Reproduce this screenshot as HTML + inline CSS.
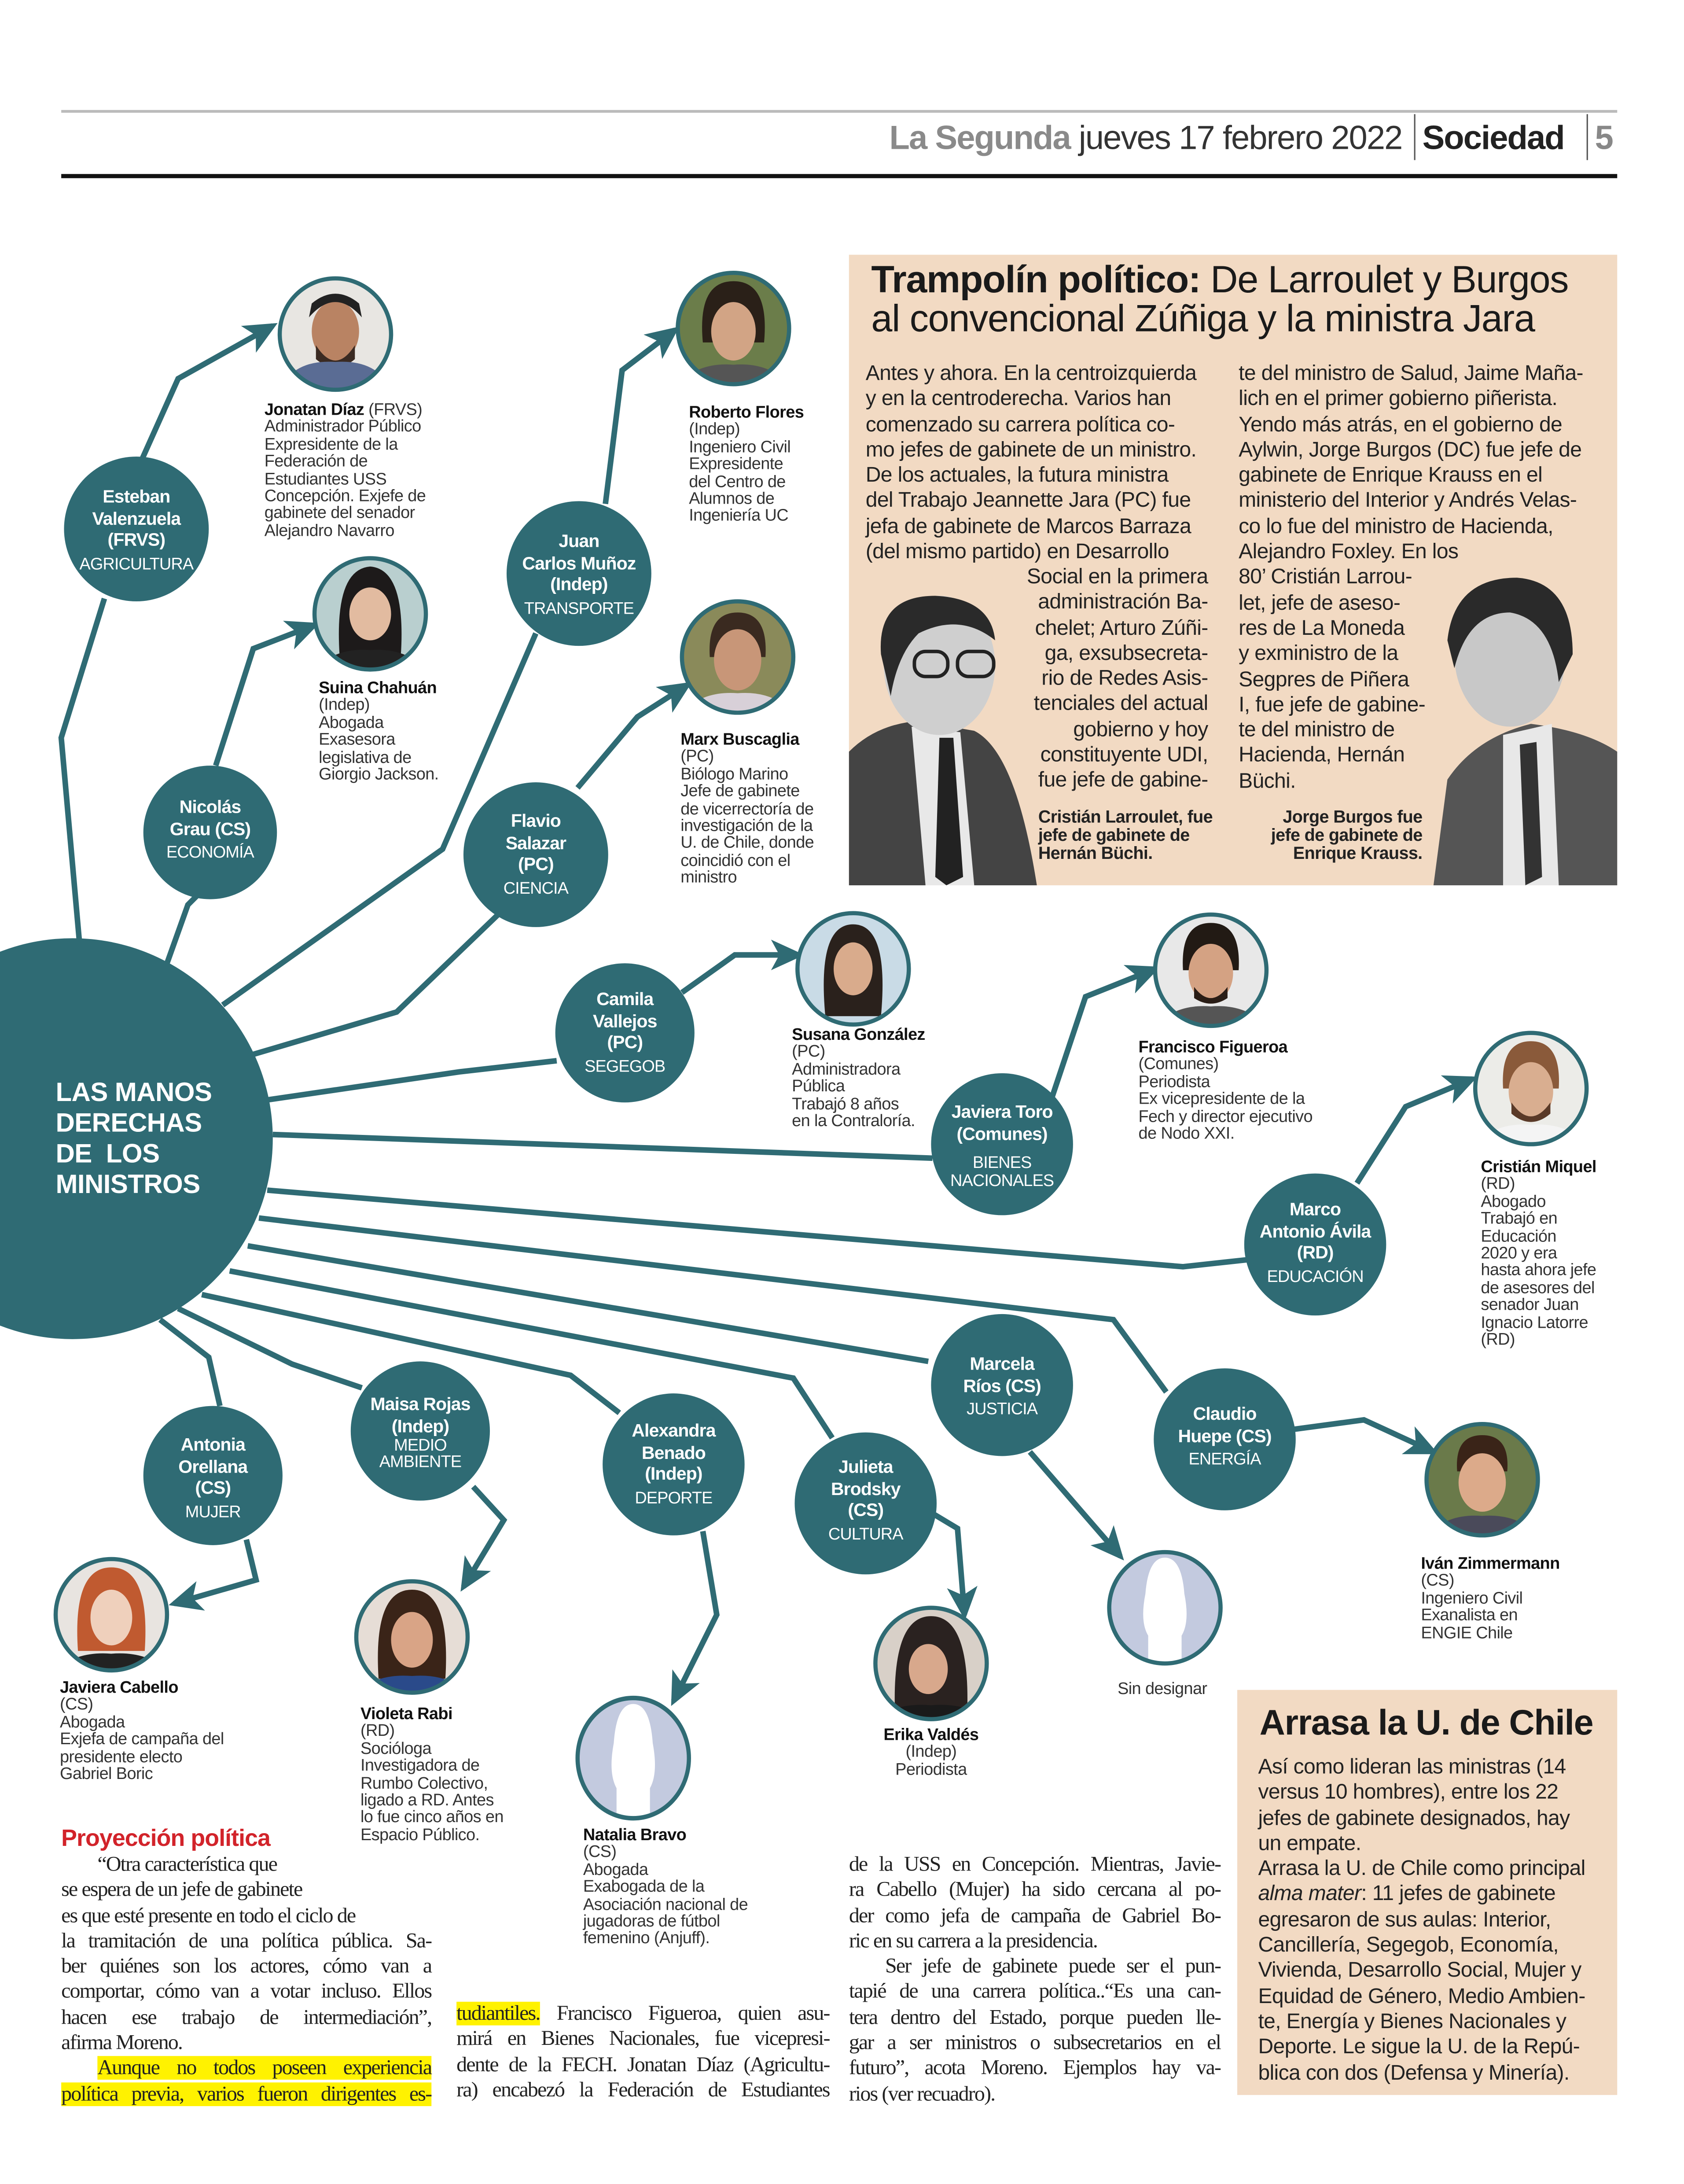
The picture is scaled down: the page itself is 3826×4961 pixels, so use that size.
<!DOCTYPE html>
<html><head><meta charset="utf-8">
<style>
html,body{margin:0;padding:0;background:#fff;}
body{width:3826px;height:4961px;overflow:hidden;position:relative;}
#w{position:absolute;left:0;top:0;width:1210px;height:1569px;transform:scale(3.162);transform-origin:0 0;font-family:"Liberation Sans",sans-serif;color:#222;}
.a{position:absolute;}
.p{position:absolute;font-size:12px;line-height:12.4px;color:#333;letter-spacing:-0.2px;white-space:nowrap;}
.p b{color:#111;}
.m{position:absolute;color:#fff;text-align:center;font-weight:bold;font-size:13px;line-height:15.5px;letter-spacing:-0.3px;}
.m i{font-style:normal;font-weight:normal;font-size:12px;display:block;line-height:13px;margin-top:3px;}
.s{position:absolute;font-family:"Liberation Serif",serif;font-size:15.2px;line-height:18.3px;letter-spacing:-0.6px;color:#222;}
.s div{white-space:nowrap;height:18.3px;overflow:visible;}
.s .j{text-align:justify;text-align-last:justify;white-space:normal;}
.in{padding-left:26px;}
.hl{background:#fff200;}
.bx{font-size:15.2px;line-height:18.3px;color:#222;letter-spacing:-0.2px;white-space:nowrap;}
</style></head><body><div id="w">
<div class="a" style="left:44px;top:79px;width:1118px;height:2px;background:#bbb"></div>
<div class="a" style="left:44px;top:125px;width:1118px;height:3px;background:#111"></div>
<div class="a" style="left:639px;top:85px;font-size:24px;line-height:30px;white-space:nowrap;letter-spacing:-0.6px"><b style="color:#8a8a8a">La Segunda</b> <span style="color:#333">jueves 17 febrero 2022</span></div>
<div class="a" style="left:1016px;top:82px;width:1px;height:33px;background:#555"></div>
<div class="a" style="left:1022px;top:85px;font-size:24px;line-height:30px;font-weight:bold;letter-spacing:-0.6px">Sociedad</div>
<div class="a" style="left:1140px;top:82px;width:1px;height:33px;background:#555"></div>
<div class="a" style="left:1146px;top:85px;font-size:24px;line-height:30px;color:#888;font-weight:bold">5</div>

<svg class="a" style="left:0;top:0" width="1210" height="1569" viewBox="0 0 1210 1569">
<defs>
<marker id="ar" markerUnits="userSpaceOnUse" markerWidth="26" markerHeight="26" refX="20" refY="11" orient="auto" viewBox="0 0 26 22">
<path d="M0,0 L24,11 L0,22 L6,11 Z" fill="#2f6b74"/></marker>
<clipPath id="c1"><circle cx="0" cy="0" r="39"/></clipPath>
</defs>
<g fill="none" stroke="#2f6b74" stroke-width="4" stroke-linejoin="miter">
<polyline points="57,676 44,530 75,430"/>
<polyline points="120,692 135,650 145,640"/>
<polyline points="160,722 318,610 385,455"/>
<polyline points="180,758 285,727 360,655"/>
<polyline points="193,790 330,770 400,762"/>
<polyline points="196,815 670,832"/>
<polyline points="192,855 850,910 896,905"/>
<polyline points="186,875 800,948 838,1000"/>
<polyline points="178,895 667,978"/>
<polyline points="165,913 570,990 598,1033"/>
<polyline points="145,930 410,988 445,1015"/>
<polyline points="128,940 210,980 260,997"/>
<polyline points="115,948 150,975 158,1010"/>
<polyline points="102,330 128,272 196,234" marker-end="url(#ar)"/>
<polyline points="155,550 182,466 226,449" marker-end="url(#ar)"/>
<polyline points="435,362 447,266 485,237" marker-end="url(#ar)"/>
<polyline points="415,566 458,515 494,492" marker-end="url(#ar)"/>
<polyline points="490,713 528,686 574,686" marker-end="url(#ar)"/>
<polyline points="756,788 780,716 830,696" marker-end="url(#ar)"/>
<polyline points="975,850 1010,795 1058,775" marker-end="url(#ar)"/>
<polyline points="928,1027 980,1020 1030,1043" marker-end="url(#ar)"/>
<polyline points="740,1043 805,1118" marker-end="url(#ar)"/>
<polyline points="668,1086 688,1098 693,1160" marker-end="url(#ar)"/>
<polyline points="505,1100 515,1160 484,1222" marker-end="url(#ar)"/>
<polyline points="340,1068 362,1092 333,1140" marker-end="url(#ar)"/>
<polyline points="177,1106 184,1135 125,1152" marker-end="url(#ar)"/>
</g>
<g fill="#2f6b74">
<circle cx="52" cy="818" r="144"/>
<circle cx="98" cy="380" r="52"/>
<circle cx="151" cy="598" r="48"/>
<circle cx="416" cy="412" r="52"/>
<circle cx="385" cy="614" r="52"/>
<circle cx="449" cy="742" r="50"/>
<circle cx="720" cy="822" r="51"/>
<circle cx="945" cy="894" r="51"/>
<circle cx="720" cy="995" r="51"/>
<circle cx="880" cy="1034" r="51"/>
<circle cx="153" cy="1060" r="50"/>
<circle cx="302" cy="1028" r="50"/>
<circle cx="484" cy="1052" r="51"/>
<circle cx="622" cy="1080" r="51"/>
</g>
<g id="photos">
<g transform="translate(241,240)"><g clip-path="url(#c1)"><rect x="-40" y="-40" width="80" height="80" fill="#e8e6e2"/><ellipse cx="0" cy="-2" rx="17" ry="22" fill="#b98363"/><path d="M-19,-12 Q0,-34 19,-12 L17,-22 Q0,-36 -17,-22Z" fill="#222"/><path d="M-14,8 Q0,30 14,8 L14,18 Q0,30 -14,18Z" fill="#3a2a22"/><path d="M-40,40 Q-30,18 0,20 Q30,18 40,40Z" fill="#5a6c94"/></g><circle r="40" fill="none" stroke="#2f6b74" stroke-width="3"/></g>
<g transform="translate(266,441)"><g clip-path="url(#c1)"><rect x="-40" y="-40" width="80" height="80" fill="#b9cfcf"/><path d="M-22,30 Q-26,-32 0,-34 Q26,-32 22,30Z" fill="#1d1a1a"/><ellipse cx="0" cy="0" rx="15" ry="19" fill="#e2bba0"/><path d="M-40,40 Q-25,24 0,26 Q25,24 40,40Z" fill="#222"/></g><circle r="40" fill="none" stroke="#2f6b74" stroke-width="3"/></g>
<g transform="translate(527,236)"><g clip-path="url(#c1)"><rect x="-40" y="-40" width="80" height="80" fill="#6b7d4a"/><path d="M-22,10 Q-26,-34 0,-34 Q26,-34 22,10Z" fill="#2a2018"/><ellipse cx="0" cy="2" rx="16" ry="21" fill="#d2a485"/><path d="M-40,40 Q-25,24 0,26 Q25,24 40,40Z" fill="#555"/></g><circle r="40" fill="none" stroke="#2f6b74" stroke-width="3"/></g>
<g transform="translate(530,472)"><g clip-path="url(#c1)"><rect x="-40" y="-40" width="80" height="80" fill="#8a8a5a"/><path d="M-20,0 Q-22,-32 0,-32 Q22,-32 20,0Z" fill="#3a2a20"/><ellipse cx="0" cy="2" rx="17" ry="22" fill="#c89678"/><path d="M-40,40 Q-25,24 0,26 Q25,24 40,40Z" fill="#d8d0d8"/></g><circle r="40" fill="none" stroke="#2f6b74" stroke-width="3"/></g>
<g transform="translate(613,696)"><g clip-path="url(#c1)"><rect x="-40" y="-40" width="80" height="80" fill="#c9dbe6"/><path d="M-20,34 Q-26,-32 0,-32 Q26,-32 20,34Z" fill="#2a211c"/><ellipse cx="0" cy="0" rx="14" ry="19" fill="#d9ab8c"/></g><circle r="40" fill="none" stroke="#2f6b74" stroke-width="3"/></g>
<g transform="translate(870,697)"><g clip-path="url(#c1)"><rect x="-40" y="-40" width="80" height="80" fill="#e8e8e8"/><path d="M-20,0 Q-22,-34 0,-34 Q22,-34 20,0Z" fill="#221a14"/><ellipse cx="0" cy="2" rx="16" ry="21" fill="#d4a283"/><path d="M-12,12 Q0,28 12,12 L12,20 Q0,28 -12,20Z" fill="#2a1d16"/><path d="M-40,40 Q-25,24 0,26 Q25,24 40,40Z" fill="#555"/></g><circle r="40" fill="none" stroke="#2f6b74" stroke-width="3"/></g>
<g transform="translate(1100,782)"><g clip-path="url(#c1)"><rect x="-40" y="-40" width="80" height="80" fill="#ecece8"/><path d="M-20,0 Q-22,-34 0,-34 Q22,-34 20,0Z" fill="#8a5a3a"/><ellipse cx="0" cy="2" rx="16" ry="21" fill="#d9ae90"/><path d="M-14,10 Q0,30 14,10 L14,18 Q0,30 -14,18Z" fill="#5a3a28"/><path d="M-40,40 Q-25,24 0,26 Q25,24 40,40Z" fill="#f4f4f4"/></g><circle r="40" fill="none" stroke="#2f6b74" stroke-width="3"/></g>
<g transform="translate(1065,1063)"><g clip-path="url(#c1)"><rect x="-40" y="-40" width="80" height="80" fill="#6a7a4a"/><path d="M-18,-6 Q-20,-32 0,-32 Q20,-32 18,-6Z" fill="#3a2418"/><ellipse cx="0" cy="2" rx="17" ry="21" fill="#dcaa8a"/><path d="M-40,40 Q-25,24 0,26 Q25,24 40,40Z" fill="#4a4a5a"/></g><circle r="40" fill="none" stroke="#2f6b74" stroke-width="3"/></g>
<g transform="translate(669,1195)"><g clip-path="url(#c1)"><rect x="-40" y="-40" width="80" height="80" fill="#d8d0c8"/><path d="M-26,34 Q-28,-34 0,-34 Q28,-34 26,34Z" fill="#2a2220"/><ellipse cx="-2" cy="4" rx="14" ry="18" fill="#d8a88c"/><path d="M-40,40 Q-25,28 0,30 Q25,28 40,40Z" fill="#1a1a1a"/></g><circle r="40" fill="none" stroke="#2f6b74" stroke-width="3"/></g>
<g transform="translate(296,1176)"><g clip-path="url(#c1)"><rect x="-40" y="-40" width="80" height="80" fill="#e6ddd6"/><path d="M-24,30 Q-28,-34 0,-34 Q28,-34 24,30Z" fill="#3a2418"/><ellipse cx="0" cy="2" rx="15" ry="20" fill="#d9a486"/><path d="M-40,40 Q-25,26 0,28 Q25,26 40,40Z" fill="#2a4a8a"/></g><circle r="40" fill="none" stroke="#2f6b74" stroke-width="3"/></g>
<g transform="translate(80,1160)"><g clip-path="url(#c1)"><rect x="-40" y="-40" width="80" height="80" fill="#e8e4e0"/><path d="M-24,26 Q-28,-34 0,-34 Q28,-34 24,26Z" fill="#c05a30"/><ellipse cx="0" cy="2" rx="15" ry="20" fill="#efd0bc"/><path d="M-40,40 Q-25,26 0,28 Q25,26 40,40Z" fill="#222"/></g><circle r="40" fill="none" stroke="#2f6b74" stroke-width="3"/></g>
<g transform="translate(837,1155)"><g clip-path="url(#c1)"><rect x="-40" y="-40" width="80" height="80" fill="#c3cadf"/><path d="M-12,40 L-12,20 Q-18,10 -14,-10 Q-12,-36 0,-36 Q12,-36 14,-10 Q18,10 12,20 L12,40Z" fill="#fff"/></g><circle r="40" fill="none" stroke="#2f6b74" stroke-width="3"/></g>
<g transform="translate(455,1263) scale(1,1.08)"><g clip-path="url(#c1)"><rect x="-40" y="-40" width="80" height="80" fill="#c3cadf"/><path d="M-12,40 L-12,20 Q-18,10 -14,-10 Q-12,-36 0,-36 Q12,-36 14,-10 Q18,10 12,20 L12,40Z" fill="#fff"/></g><circle r="40" fill="none" stroke="#2f6b74" stroke-width="3"/></g>
</g>
<rect x="610" y="183" width="552" height="453" fill="#f2dac3"/>
<rect x="889" y="1214" width="273" height="291" fill="#f2dac3"/>
<g>
<path d="M610,636 L610,540 Q630,520 660,518 L700,525 Q730,540 745,636Z" fill="#444"/>
<path d="M655,522 L690,526 L700,636 L665,636Z" fill="#e8e8e8"/>
<path d="M675,530 L685,530 L692,630 L680,636 L672,630Z" fill="#222"/>
<ellipse cx="675" cy="478" rx="40" ry="50" fill="#cfcfcf"/>
<path d="M633,470 Q630,428 672,428 Q712,430 715,460 Q690,440 660,455 Q645,470 640,500Z" fill="#2a2a2a"/>
<rect x="657" y="468" width="24" height="18" rx="8" fill="none" stroke="#222" stroke-width="2.5"/>
<rect x="688" y="468" width="26" height="18" rx="8" fill="none" stroke="#222" stroke-width="2.5"/>
<path d="M1030,636 L1040,560 Q1060,530 1100,520 Q1140,525 1162,540 L1162,636Z" fill="#555"/>
<path d="M1080,528 L1115,520 L1120,636 L1080,636Z" fill="#e8e8e8"/>
<path d="M1092,535 L1104,533 L1108,630 L1096,636Z" fill="#333"/>
<ellipse cx="1085" cy="470" rx="40" ry="52" fill="#c8c8c8"/>
<path d="M1040,460 Q1045,415 1090,415 Q1130,418 1130,470 L1120,490 Q1115,445 1085,440 Q1055,440 1045,480Z" fill="#2a2a2a"/>
</g>
</svg>

<div class="a" style="left:40px;top:775px;color:#fff;font-weight:bold;font-size:19px;line-height:22px;letter-spacing:-0.2px;white-space:nowrap">LAS MANOS<br>DERECHAS<br>DE&nbsp; LOS<br>MINISTROS</div>

<div class="m" style="left:38px;top:349px;width:120px">Esteban<br>Valenzuela<br>(FRVS)<i>AGRICULTURA</i></div>
<div class="m" style="left:101px;top:572px;width:100px">Nicolás<br>Grau (CS)<i>ECONOMÍA</i></div>
<div class="m" style="left:361px;top:381px;width:110px">Juan<br>Carlos Muñoz<br>(Indep)<i>TRANSPORTE</i></div>
<div class="m" style="left:335px;top:582px;width:100px">Flavio<br>Salazar<br>(PC)<i>CIENCIA</i></div>
<div class="m" style="left:399px;top:710px;width:100px">Camila<br>Vallejos<br>(PC)<i>SEGEGOB</i></div>
<div class="m" style="left:664px;top:791px;width:112px">Javiera Toro<br>(Comunes)<i style="margin-top:7px;line-height:13px">BIENES<br>NACIONALES</i></div>
<div class="m" style="left:890px;top:861px;width:110px">Marco<br>Antonio Ávila<br>(RD)<i>EDUCACIÓN</i></div>
<div class="m" style="left:670px;top:972px;width:100px">Marcela<br>Ríos (CS)<i>JUSTICIA</i></div>
<div class="m" style="left:828px;top:1008px;width:104px">Claudio<br>Huepe (CS)<i>ENERGÍA</i></div>
<div class="m" style="left:103px;top:1030px;width:100px">Antonia<br>Orellana<br>(CS)<i>MUJER</i></div>
<div class="m" style="left:248px;top:1001px;width:108px">Maisa Rojas<br>(Indep)<i style="margin-top:0;line-height:12px">MEDIO<br>AMBIENTE</i></div>
<div class="m" style="left:434px;top:1020px;width:100px">Alexandra<br>Benado<br>(Indep)<i>DEPORTE</i></div>
<div class="m" style="left:572px;top:1046px;width:100px">Julieta<br>Brodsky<br>(CS)<i>CULTURA</i></div>

<div class="p" style="left:190px;top:288px"><b>Jonatan Díaz</b> (FRVS)<br>Administrador Público<br>Expresidente de la<br>Federación de<br>Estudiantes USS<br>Concepción. Exjefe de<br>gabinete del senador<br>Alejandro Navarro</div>
<div class="p" style="left:229px;top:488px"><b>Suina Chahuán</b><br>(Indep)<br>Abogada<br>Exasesora<br>legislativa de<br>Giorgio Jackson.</div>
<div class="p" style="left:495px;top:290px"><b>Roberto Flores</b><br>(Indep)<br>Ingeniero Civil<br>Expresidente<br>del Centro de<br>Alumnos de<br>Ingeniería UC</div>
<div class="p" style="left:489px;top:525px"><b>Marx Buscaglia</b><br>(PC)<br>Biólogo Marino<br>Jefe de gabinete<br>de vicerrectoría de<br>investigación de la<br>U. de Chile, donde<br>coincidió con el<br>ministro</div>
<div class="p" style="left:569px;top:737px"><b>Susana González</b><br>(PC)<br>Administradora<br>Pública<br>Trabajó 8 años<br>en la Contraloría.</div>
<div class="p" style="left:818px;top:746px"><b>Francisco Figueroa</b><br>(Comunes)<br>Periodista<br>Ex vicepresidente de la<br>Fech y director ejecutivo<br>de Nodo XXI.</div>
<div class="p" style="left:1064px;top:832px"><b>Cristián Miquel</b><br>(RD)<br>Abogado<br>Trabajó en<br>Educación<br>2020 y era<br>hasta ahora jefe<br>de asesores del<br>senador Juan<br>Ignacio Latorre<br>(RD)</div>
<div class="p" style="left:1021px;top:1117px"><b>Iván Zimmermann</b><br>(CS)<br>Ingeniero Civil<br>Exanalista en<br>ENGIE Chile</div>
<div class="p" style="left:619px;top:1240px;width:100px;text-align:center"><b>Erika Valdés</b><br>(Indep)<br>Periodista</div>
<div class="p" style="left:803px;top:1207px">Sin designar</div>
<div class="p" style="left:43px;top:1206px"><b>Javiera Cabello</b><br>(CS)<br>Abogada<br>Exjefa de campaña del<br>presidente electo<br>Gabriel Boric</div>
<div class="p" style="left:259px;top:1225px"><b>Violeta Rabi</b><br>(RD)<br>Socióloga<br>Investigadora de<br>Rumbo Colectivo,<br>ligado a RD. Antes<br>lo fue cinco años en<br>Espacio Público.</div>
<div class="p" style="left:419px;top:1312px"><b>Natalia Bravo</b><br>(CS)<br>Abogada<br>Exabogada de la<br>Asociación nacional de<br>jugadoras de fútbol<br>femenino (Anjuff).</div>

<div class="a" style="left:626px;top:187px;font-size:27.3px;line-height:28px;white-space:nowrap;letter-spacing:-0.4px;color:#1a1a1a"><b>Trampolín político:</b> De Larroulet y Burgos<br>al convencional Zúñiga y la ministra Jara</div>
<div class="a bx" style="left:622px;top:260px">Antes y ahora. En la centroizquierda<br>y en la centroderecha. Varios han<br>comenzado su carrera política co-<br>mo jefes de gabinete de un ministro.<br>De los actuales, la futura ministra<br>del Trabajo Jeannette Jara (PC) fue<br>jefa de gabinete de Marcos Barraza<br>(del mismo partido) en Desarrollo</div>
<div class="a bx" style="left:700px;top:406px;text-align:right;width:168px">Social en la primera<br>administración Ba-<br>chelet; Arturo Zúñi-<br>ga, exsubsecreta-<br>rio de Redes Asis-<br>tenciales del actual<br>gobierno y hoy<br>constituyente UDI,<br>fue jefe de gabine-</div>
<div class="a bx" style="left:890px;top:260px">te del ministro de Salud, Jaime Maña-<br>lich en el primer gobierno piñerista.<br>Yendo más atrás, en el gobierno de<br>Aylwin, Jorge Burgos (DC) fue jefe de<br>gabinete de Enrique Krauss en el<br>ministerio del Interior y Andrés Velas-<br>co lo fue del ministro de Hacienda,<br>Alejandro Foxley. En los<br>80’ Cristián Larrou-<br>let, jefe de aseso-<br>res de La Moneda<br>y exministro de la<br>Segpres de Piñera<br>I, fue jefe de gabine-<br>te del ministro de<br>Hacienda, Hernán<br>Büchi.</div>
<div class="a" style="left:746px;top:581px;font-size:12.5px;line-height:13px;font-weight:bold;color:#222;white-space:nowrap;letter-spacing:-0.2px">Cristián Larroulet, fue<br>jefe de gabinete de<br>Hernán Büchi.</div>
<div class="a" style="left:880px;top:581px;width:142px;text-align:right;font-size:12.5px;line-height:13px;font-weight:bold;color:#222;white-space:nowrap;letter-spacing:-0.2px">Jorge Burgos fue<br>jefe de gabinete de<br>Enrique Krauss.</div>

<div class="a" style="left:905px;top:1223px;font-size:25.5px;line-height:30px;font-weight:bold;color:#1a1a1a;letter-spacing:-0.4px;white-space:nowrap">Arrasa la U. de Chile</div>
<div class="a bx" style="left:904px;top:1261px">Así como lideran las ministras (14<br>versus 10 hombres), entre los 22<br>jefes de gabinete designados, hay<br>un empate.<br>Arrasa la U. de Chile como principal<br><i>alma mater</i>: 11 jefes de gabinete<br>egresaron de sus aulas: Interior,<br>Cancillería, Segegob, Economía,<br>Vivienda, Desarrollo Social, Mujer y<br>Equidad de Género, Medio Ambien-<br>te, Energía y Bienes Nacionales y<br>Deporte. Le sigue la U. de la Repú-<br>blica con dos (Defensa y Minería).</div>

<div class="a" style="left:44px;top:1310px;font-size:17px;line-height:22px;font-weight:bold;color:#d2232a;letter-spacing:-0.3px">Proyección política</div>
<div class="s" style="left:44px;top:1331px;width:266px">
<div class="in">“Otra característica que</div>
<div>se espera de un jefe de gabinete</div>
<div>es que esté presente en todo el ciclo de</div>
<div class="j">la tramitación de una política pública. Sa-</div>
<div class="j">ber quiénes son los actores, cómo van a</div>
<div class="j">comportar, cómo van a votar incluso. Ellos</div>
<div class="j">hacen ese trabajo de intermediación”,</div>
<div>afirma Moreno.</div>
<div class="j" style="padding-left:26px"><span class="hl">Aunque no todos poseen experiencia</span></div>
<div class="j"><span class="hl">política previa, varios fueron dirigentes es-</span></div>
</div>
<div class="s" style="left:328px;top:1438px;width:268px">
<div class="j"><span class="hl">tudiantiles.</span> Francisco Figueroa, quien asu-</div>
<div class="j">mirá en Bienes Nacionales, fue vicepresi-</div>
<div class="j">dente de la FECH. Jonatan Díaz (Agricultu-</div>
<div class="j">ra) encabezó la Federación de Estudiantes</div>
</div>
<div class="s" style="left:610px;top:1331px;width:267px">
<div class="j">de la USS en Concepción. Mientras, Javie-</div>
<div class="j">ra Cabello (Mujer) ha sido cercana al po-</div>
<div class="j">der como jefa de campaña de Gabriel Bo-</div>
<div>ric en su carrera a la presidencia.</div>
<div class="j" style="padding-left:26px">Ser jefe de gabinete puede ser el pun-</div>
<div class="j">tapié de una carrera política..“Es una can-</div>
<div class="j">tera dentro del Estado, porque pueden lle-</div>
<div class="j">gar a ser ministros o subsecretarios en el</div>
<div class="j">futuro”, acota Moreno. Ejemplos hay va-</div>
<div>rios (ver recuadro).</div>
</div>
</div></body></html>
